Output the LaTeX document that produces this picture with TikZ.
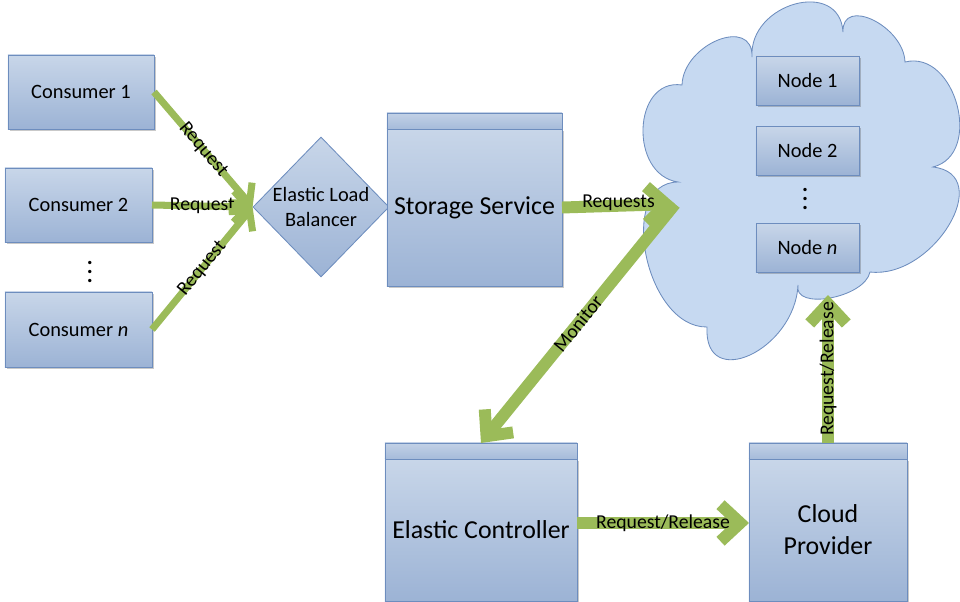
\documentclass[tikz,border=0pt]{standalone}
\usepackage{fontspec}
\setmainfont{Carlito}
\usetikzlibrary{arrows.meta,positioning,shapes.geometric,shadows}
\definecolor{boxtop}{HTML}{C8D6E9}
\definecolor{boxbot}{HTML}{9CB3D5}
\definecolor{hdrtop}{HTML}{C2D1E6}
\definecolor{hdrbot}{HTML}{A6BBDA}
\definecolor{boxline}{HTML}{6D8DBE}
\definecolor{cloudfill}{HTML}{C6D9F1}
\definecolor{flowgreen}{HTML}{9BBB59}
\newcommand{\bigtxt}{\fontsize{18.4}{22.7}\selectfont}
\newcommand{\midtxt}{\fontsize{14.5}{17.7}\selectfont}
\newcommand{\lbltxt}{\fontsize{14}{16}\selectfont}
\newcommand{\moredots}{\vbox{\baselineskip6.2pt\lineskiplimit0pt
  \hbox{.}\hbox{.}\hbox{.}}}

\begin{document}
\begin{tikzpicture}[
  x=0.025cm, y=-0.025cm,
  unitbox/.style={draw=boxline, line width=0.6pt, top color=boxtop, bottom color=boxbot,
                  drop shadow={shadow xshift=1.2pt, shadow yshift=-1.2pt,
                               opacity=0.3, fill=black!70},
                  outer sep=0pt, inner sep=2pt, align=center, font=\midtxt},
  svcbox/.style={unitbox, font=\bigtxt},
  hdrbar/.style={draw=boxline, line width=0.6pt, top color=hdrtop, bottom color=hdrbot,
                 outer sep=0pt, inner sep=0pt, minimum height=0.4cm},
  balancer/.style={diamond, aspect=1, draw=boxline, line width=0.6pt, top color=boxtop,
                   bottom color=boxbot, inner sep=0pt, align=center,
                   font=\midtxt, minimum width=3.4cm, minimum height=3.5cm},
  cloudline/.style={draw=boxline, line width=0.6pt, fill=cloudfill},
  vdot/.style={font=\fontsize{16}{16}\selectfont\bfseries, inner sep=0pt},
  flow/.style={draw=flowgreen, line width=5pt,
               -{Straight Barb[length=10pt, width=22pt, sharp]}},
  bigflow/.style={draw=flowgreen, line width=8.5pt,
                  -{Straight Barb[length=14pt, width=26pt, sharp]}},
  lbl/.style={font=\lbltxt, inner sep=0pt, text=black},
]
\useasboundingbox (0,0) rectangle (960,601);
\clip (0,0) rectangle (960,601);

% --- consumers ---
\node[unitbox, minimum width=3.65cm, minimum height=1.85cm] (consumerA) at (81,92) {Consumer 1};
\node[unitbox, minimum width=3.675cm, minimum height=1.85cm] (consumerB) at (78.5,205) {Consumer 2};
\node[vdot] (cdots) at (90,272) {\moredots};
\node[unitbox, minimum width=3.675cm, minimum height=1.875cm] (consumerN) at (78.5,329.5) {Consumer \textit{n}};

% --- load balancer and storage ---
\node[balancer] (elb) at (321,207) {Elastic Load\\Balancer};
\node[svcbox, minimum width=4.375cm, minimum height=3.925cm] (storage) at (474.5,207.5) {Storage Service};
\node[hdrbar, minimum width=4.375cm, above=0pt of storage] (storageHd) {};

% --- cloud (puffs drawn by hand) with its nodes ---
\draw[cloudline] (678,182)
  .. controls (628.7,174.7) and (632.7,77.7) .. (682,85)
  .. controls (683.3,43.7) and (753.3,15.7) .. (752,57)
  .. controls (748.7,3) and (839.7,-22) .. (843,32)
  .. controls (841.7,-4) and (903.7,26) .. (905,62)
  .. controls (955.7,49.3) and (983.7,154.3) .. (933,167)
  .. controls (996.3,174.3) and (933.3,279.3) .. (870,272)
  .. controls (864.7,298) and (792.7,311) .. (798,285)
  .. controls (794.7,350.3) and (703.7,392.3) .. (707,327)
  .. controls (645,327.7) and (616,182.7) .. (678,182) -- cycle;
\node[unitbox, minimum width=2.575cm, minimum height=1.225cm] (nodeA) at (807.5,80.5) {Node 1};
\node[unitbox, minimum width=2.575cm, minimum height=1.225cm, below=0.525cm of nodeA] (nodeB) {Node 2};
\node[vdot] (ndots) at (805,199) {\moredots};
\node[unitbox, minimum width=2.575cm, minimum height=1.225cm] (nodeN) at (807.5,247.5) {Node \textit{n}};
\coordinate (cloudIn) at (675,204);
\coordinate (cloudOut) at (828,295);

% --- controller and provider ---
\node[svcbox, minimum width=4.8cm, minimum height=3.55cm] (ctrl) at (481,530) {Elastic Controller};
\node[hdrbar, minimum width=4.8cm, above=0pt of ctrl] (ctrlHd) {};
\node[svcbox, minimum width=3.95cm, minimum height=3.55cm] (provider) at (828,530) {Cloud\\Provider};
\node[hdrbar, minimum width=3.95cm, above=0pt of provider] (providerHd) {};

% --- request flows ---
\draw[flow] (consumerA.east) -- node[lbl, sloped] {Request} (elb.west);
\draw[flow] (consumerB.east) -- node[lbl] {Request} (elb.west);
\draw[flow] (consumerN.east) -- node[lbl, sloped] {Request} (elb.west);
\draw[bigflow] (storage.east) -- node[lbl, yshift=2pt] {Requests} (cloudIn);
\draw[bigflow] (cloudIn) -- node[lbl, sloped] {Monitor} (ctrlHd.north);
\draw[bigflow] ([yshift=5pt]ctrl.east) -- node[lbl] {Request/Release} ([yshift=5pt]provider.west);
\draw[bigflow] (providerHd.north) -- node[lbl, rotate=90] {Request/Release} (cloudOut);
\end{tikzpicture}
\end{document}
